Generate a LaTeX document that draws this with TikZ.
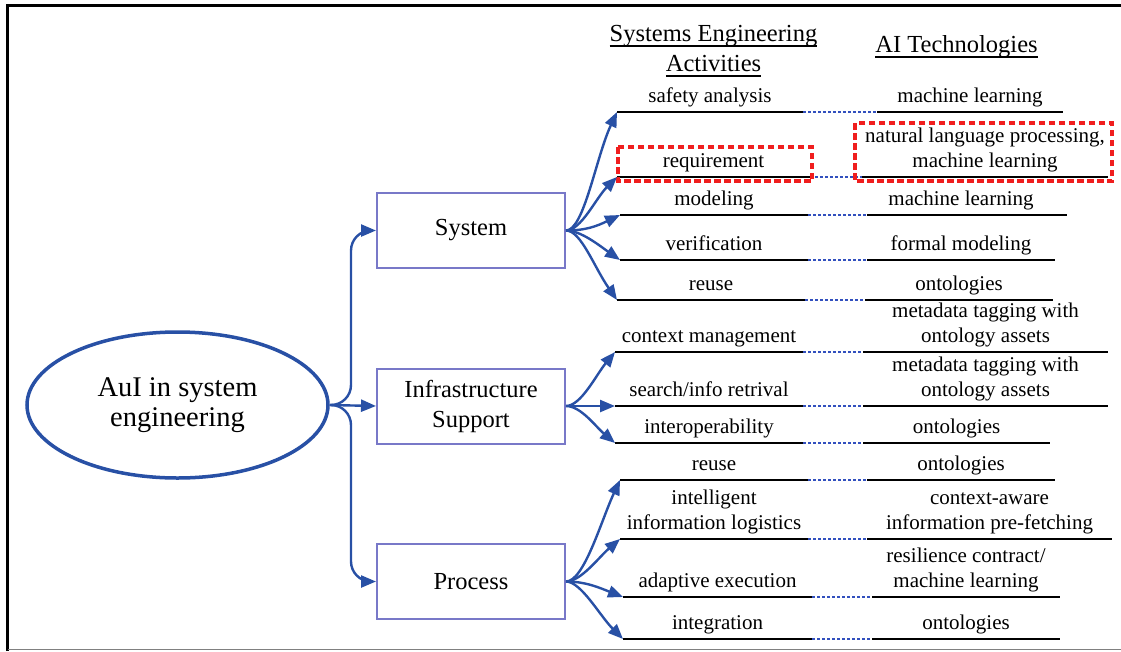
\documentclass[tikz,border=0pt]{standalone}
\usepackage{fontspec}
\setmainfont{Liberation Serif}
\usetikzlibrary{arrows.meta,shapes.geometric,calc}
\definecolor{arrblue}{RGB}{40,80,165}
\definecolor{boxc}{RGB}{120,120,200}
\definecolor{dotc}{RGB}{50,80,190}
\definecolor{redd}{RGB}{240,30,30}
\newcommand\myul[1]{\setbox0\hbox{#1}\rlap{\rule[-5.5pt]{\wd0}{1.5pt}}\box0}
\newcommand\serow[6]{%
  \coordinate (a#1) at (#3,#2);
  \coordinate (b#1) at (#4,#2);
  \coordinate (c#1) at (#5,#2);
  \coordinate (d#1) at (#6,#2);
  \draw[bline] (a#1) -- (b#1);
  \draw[dline] (b#1) -- (c#1);
  \draw[bline] (c#1) -- (d#1);
}
\begin{document}
\begin{tikzpicture}[x=1pt,y=-1pt,
  arr/.style={draw=arrblue, line width=2.4pt, -{Triangle[length=15pt,width=12pt]}},
  catbox/.style={draw=boxc, line width=2pt, minimum width=188pt, minimum height=75pt, font=\fontsize{24.5}{30}\selectfont, align=center, inner sep=0pt},
  rootell/.style={ellipse, draw=arrblue, line width=3.5pt, minimum width=301pt, minimum height=146pt, font=\fontsize{28.5}{30}\selectfont, align=center, inner sep=0pt},
  rowtext/.style={font=\fontsize{21}{25}\selectfont, align=center, inner sep=0pt, anchor=base},
  head/.style={font=\fontsize{24.5}{30}\selectfont, align=center, inner sep=0pt, anchor=base},
  bline/.style={draw=black, line width=2.5pt},
  dline/.style={draw=dotc, line width=2.2pt, dash pattern=on 3pt off 2pt},
  hl/.style={draw=redd, line width=3.3pt, dash pattern=on 6.5pt off 3.5pt},
]
\useasboundingbox (0,0) rectangle (1121,651);
% frame
\draw[line width=3pt] (7.5,651) -- (7.5,5) -- (1121,5);
\draw[gray, line width=1.5pt] (7.5,649.3) -- (1121,649.3);

% headers
\node[head] (h1) at (713.5,71) {\myul{Systems Engineering}\\\myul{Activities}};
\node[head] (h2) at (956.5,52) {\myul{AI Technologies}};

% root and categories
\node[rootell] (root) at (177.5,405) {AuI in system\\engineering};
\node[catbox] (sys) at (471,230.5) {System};
\node[catbox] (inf) at (471,406) {Infrastructure\\Support};
\node[catbox] (pro) at (471,581.5) {Process};

\draw[arr, rounded corners=20pt] (root.east) -| ([xshift=-25pt]sys.west) -- (sys.west);
\draw[arr] (root.east) -- (inf.west);
\draw[arr, rounded corners=20pt] (root.east) -| ([xshift=-25pt]pro.west) -- (pro.west);

% rows
\serow{1}{112}{617}{803}{877}{1063}
\serow{2}{177}{617}{810}{862}{1108}
\serow{3}{215}{620}{808}{867}{1067}
\serow{4}{260}{620}{808}{867}{1055}
\serow{5}{300}{617}{805}{865}{1053}
\serow{6}{352}{615}{803}{863}{1108}
\serow{7}{406}{615}{803}{863}{1108}
\serow{8}{443}{615}{803}{863}{1050}
\serow{9}{480}{620}{808}{867}{1055}
\serow{10}{539}{620}{808}{867}{1112}
\serow{11}{597}{623}{812}{872}{1060}
\serow{12}{639}{623}{812}{872}{1060}

% row texts
\node[rowtext] (l1) at ($(a1)!0.5!(b1)+(0,-10)$) {safety analysis};
\node[rowtext] (r1) at ($(c1)!0.5!(d1)+(0,-10)$) {machine learning};
\node[rowtext] (l2) at ($(a2)!0.5!(b2)+(0,-10)$) {requirement};
\node[rowtext] (r2) at ($(c2)!0.5!(d2)+(0,-10)$) {natural language processing,\\machine learning};
\node[rowtext] (l3) at ($(a3)!0.5!(b3)+(0,-10)$) {modeling};
\node[rowtext] (r3) at ($(c3)!0.5!(d3)+(-6,-10)$) {machine learning};
\node[rowtext] (l4) at ($(a4)!0.5!(b4)+(0,-10)$) {verification};
\node[rowtext] (r4) at ($(c4)!0.5!(d4)+(0,-10)$) {formal modeling};
\node[rowtext] (l5) at ($(a5)!0.5!(b5)+(0,-10)$) {reuse};
\node[rowtext] (r5) at ($(c5)!0.5!(d5)+(0,-10)$) {ontologies};
\node[rowtext] (l6) at ($(a6)!0.5!(b6)+(0,-10)$) {context management};
\node[rowtext] (r6) at ($(c6)!0.5!(d6)+(0,-10)$) {metadata tagging with\\ontology assets};
\node[rowtext] (l7) at ($(a7)!0.5!(b7)+(0,-10)$) {search/info retrival};
\node[rowtext] (r7) at ($(c7)!0.5!(d7)+(0,-10)$) {metadata tagging with\\ontology assets};
\node[rowtext] (l8) at ($(a8)!0.5!(b8)+(0,-10)$) {interoperability};
\node[rowtext] (r8) at ($(c8)!0.5!(d8)+(0,-10)$) {ontologies};
\node[rowtext] (l9) at ($(a9)!0.5!(b9)+(0,-10)$) {reuse};
\node[rowtext] (r9) at ($(c9)!0.5!(d9)+(0,-10)$) {ontologies};
\node[rowtext] (l10) at ($(a10)!0.5!(b10)+(0,-10)$) {intelligent\\information logistics};
\node[rowtext] (r10) at ($(c10)!0.5!(d10)+(0,-10)$) {context-aware\\information pre-fetching};
\node[rowtext] (l11) at ($(a11)!0.5!(b11)+(0,-10)$) {adaptive execution};
\node[rowtext] (r11) at ($(c11)!0.5!(d11)+(0,-10)$) {resilience contract/\\machine learning};
\node[rowtext] (l12) at ($(a12)!0.5!(b12)+(0,-10)$) {integration};
\node[rowtext] (r12) at ($(c12)!0.5!(d12)+(0,-10)$) {ontologies};

% highlights
\draw[hl] (618,147) rectangle (812,181);
\draw[hl] (855,123) rectangle (1112,181);

% branches: System
\draw[arr] (sys.east) .. controls +(18,0) and +(-21,45) .. (a1);
\draw[arr] (sys.east) .. controls +(15,0) and +(-21,21) .. (a2);
\draw[arr] (sys.east) .. controls +(20,0) and +(-23,11) .. (a3);
\draw[arr] (sys.east) .. controls +(15,0) and +(-20,-14) .. (a4);
\draw[arr] (sys.east) .. controls +(15,0) and +(-23,-33) .. (a5);
% Infrastructure
\draw[arr] (inf.east) .. controls +(15,0) and +(-19,23) .. (a6);
\draw[arr] (inf.east) -- (a7);
\draw[arr] (inf.east) .. controls +(15,0) and +(-19,-16) .. (a8);
% Process
\draw[arr] (pro.east) .. controls +(18,0) and +(-19,41) .. (a9);
\draw[arr] (pro.east) .. controls +(15,0) and +(-21,18) .. (a10);
\draw[arr] (pro.east) .. controls +(20,0) and +(-23,-9) .. (a11);
\draw[arr] (pro.east) .. controls +(15,0) and +(-23,-23) .. (a12);
\end{tikzpicture}
\end{document}
